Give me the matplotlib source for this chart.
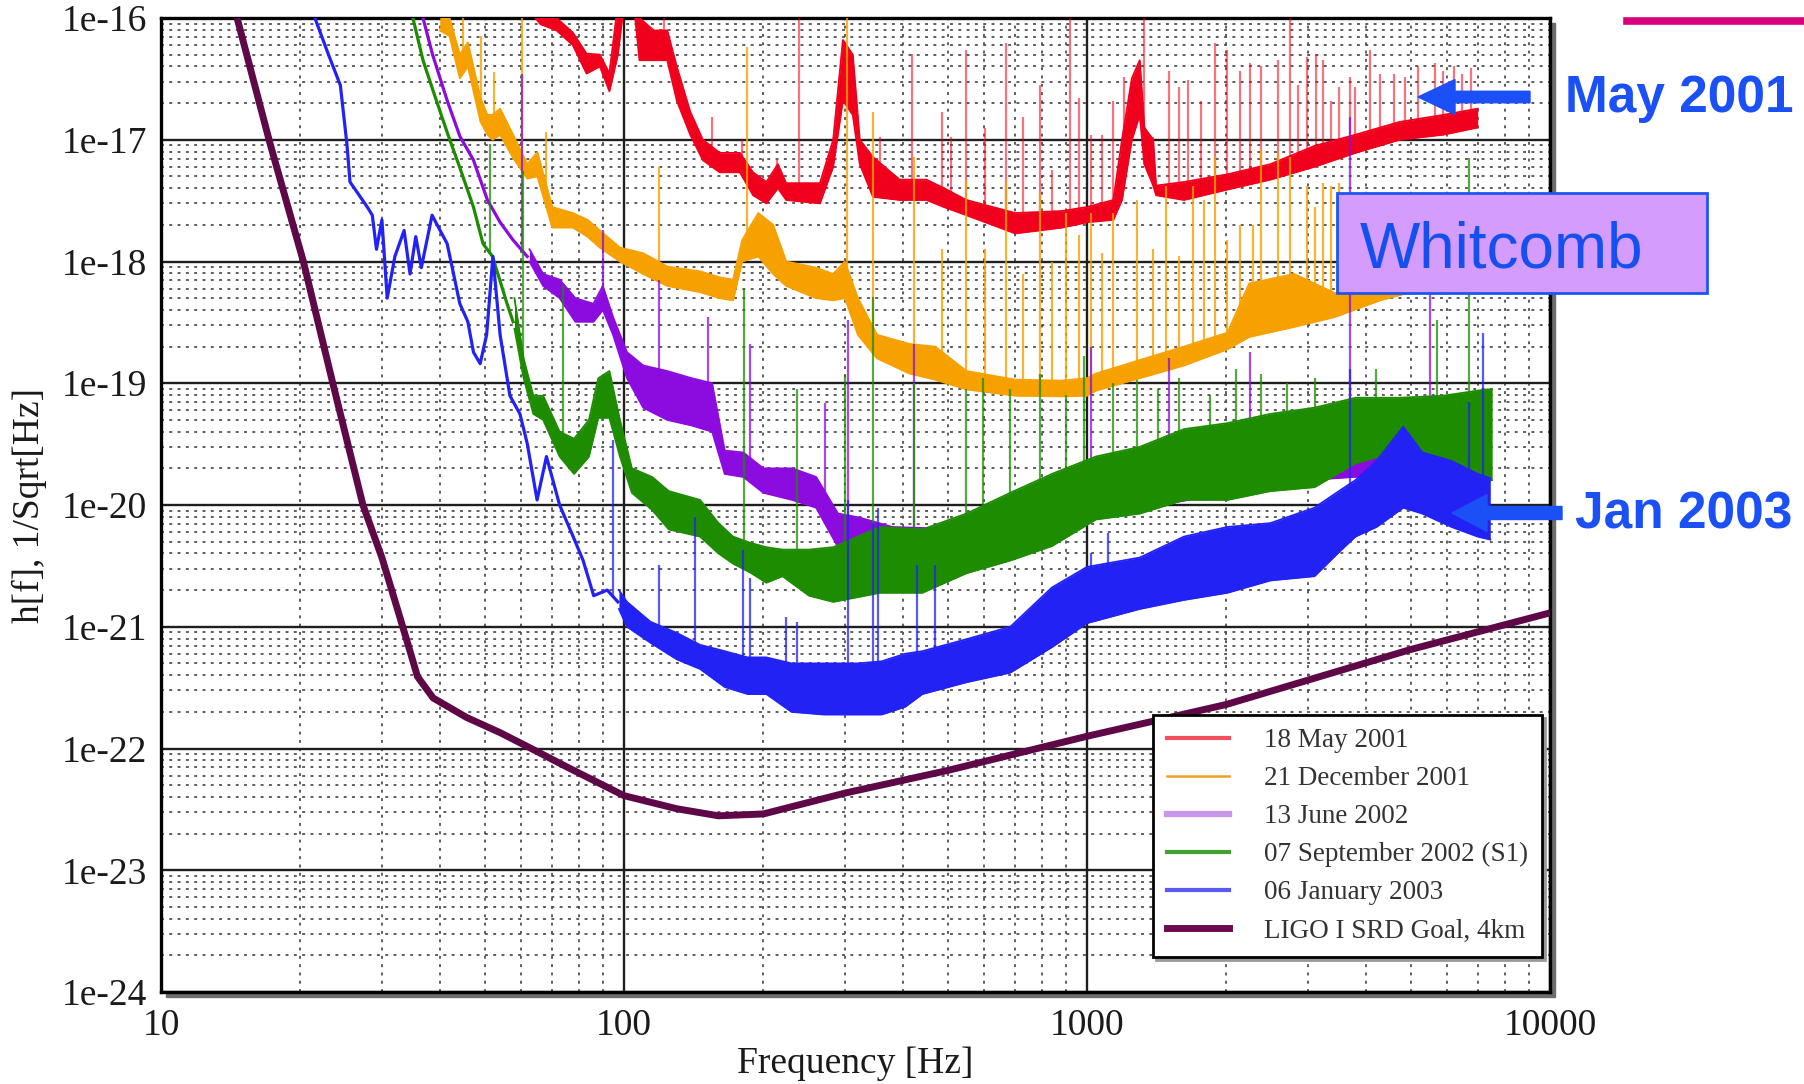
import numpy as np
import matplotlib
matplotlib.use("Agg")
import matplotlib.pyplot as plt
from matplotlib.lines import Line2D
from matplotlib.patches import Rectangle, FancyArrow
from matplotlib.ticker import FixedLocator, FixedFormatter, LogLocator, NullFormatter

plt.rcParams['font.family'] = ['Liberation Serif', 'DejaVu Serif']

# ---- axes ticks / labels
x_ticks = [10, 100, 1000, 10000]
x_tick_labels = ["10", "100", "1000", "10000"]
y_ticks = [1e-24, 1e-23, 1e-22, 1e-21, 1e-20, 1e-19, 1e-18, 1e-17, 1e-16]
y_tick_labels = ["1e-24", "1e-23", "1e-22", "1e-21", "1e-20", "1e-19", "1e-18", "1e-17", "1e-16"]

series_labels = ["18 May 2001", "21 December 2001", "13 June 2002",
                 "07 September 2002 (S1)", "06 January 2003", "LIGO I SRD Goal, 4km"]

# ---- LIGO I SRD goal (Hz, strain / sqrt(Hz))
srd_f = [14.6, 17.2, 20.3, 23.5, 27.3, 30.0, 32.8, 34.5, 35.8, 38.7, 45.7, 54, 63.7, 75,
         100, 130, 160, 200, 300, 500, 1000, 2000, 5000, 10000]
srd_h = [1.0e-16, 9.3e-18, 1.0e-18, 1.0e-19, 1.0e-20, 3.7e-21, 1.2e-21, 6.3e-22, 3.9e-22,
         2.6e-22, 1.8e-22, 1.35e-22, 9.8e-23, 7.1e-23, 4.1e-23, 3.2e-23, 2.8e-23, 2.9e-23,
         4.3e-23, 6.6e-23, 1.26e-22, 2.3e-22, 6.5e-22, 1.3e-21]

# ---- 18 May 2001 (red)
red_f = [63, 66, 71.5, 77.5, 83, 88.7, 93, 97, 100, 105, 108, 116, 124, 130, 139, 148, 161,
         178, 190, 203, 215, 224, 265, 283, 297, 312, 323, 345, 394, 450, 491, 549, 700,
         885, 1000, 1140, 1190, 1250, 1300, 1330, 1390, 1410, 1620, 2010, 2490, 3100, 3800,
         4730, 5880, 6980]
red_lo = [1.1e-16, 8.9e-17, 7.9e-17, 6.0e-17, 3.5e-17, 4.0e-17, 2.5e-17, 5.0e-17, 1.3e-16,
          1.3e-16, 4.5e-17, 4.5e-17, 4.5e-17, 2.1e-17, 1.1e-17, 6.8e-18, 5.4e-18, 5.4e-18,
          3.5e-18, 3.0e-18, 4.0e-18, 3.2e-18, 3.0e-18, 6.0e-18, 2.1e-17, 1.6e-17, 6.3e-18,
          3.4e-18, 3.2e-18, 3.2e-18, 2.8e-18, 2.4e-18, 1.7e-18, 1.9e-18, 2.1e-18, 2.2e-18,
          3.2e-18, 1.0e-17, 1.6e-17, 6.3e-18, 4.2e-18, 3.5e-18, 3.2e-18, 3.9e-18, 4.7e-18,
          6.0e-18, 7.8e-18, 1.0e-17, 1.1e-17, 1.26e-17]
red_hi = [1.26e-16, 1.1e-16, 1.0e-16, 7.6e-17, 5.1e-17, 5.0e-17, 3.5e-17, 1.3e-16, 1.6e-16,
          1.6e-16, 1.0e-16, 7.9e-17, 7.9e-17, 4.0e-17, 1.7e-17, 1.0e-17, 7.8e-18, 7.8e-18,
          5.4e-18, 4.5e-18, 6.3e-18, 4.4e-18, 4.4e-18, 1.0e-17, 6.6e-17, 5.0e-17, 1.0e-17,
          7.2e-18, 4.7e-18, 4.7e-18, 4.0e-18, 3.2e-18, 2.5e-18, 2.6e-18, 2.8e-18, 3.2e-18,
          1.0e-17, 3.2e-17, 4.5e-17, 1.26e-17, 1.0e-17, 4.2e-18, 4.5e-18, 5.2e-18, 6.3e-18,
          8.9e-18, 1.1e-17, 1.4e-17, 1.6e-17, 1.8e-17]
red_spike_f = [122, 155, 180, 214, 239, 357, 418, 486, 508, 549, 603, 667, 727, 790, 840,
               920, 960, 1020, 1080, 1140, 1200, 1330, 1390, 1500, 1580, 1650, 1760, 1890,
               2010, 2140, 2250, 2380, 2580, 2740, 2860, 2990, 3120, 3230, 3370, 3510, 3690,
               3800, 4080, 4290, 4600, 4870, 5180, 5640, 5880, 6200, 6460, 6750]
red_spike_top = [1.2e-16, 1.55e-17, 1.0e-17, 6.8e-18, 1.2e-16, 1.05e-17, 5.1e-17, 1.7e-17,
                 1.05e-17, 5.5e-17, 1.26e-17, 6.2e-17, 1.55e-17, 2.8e-17, 5.6e-18, 1.2e-16,
                 2.2e-17, 1.1e-17, 1.1e-17, 2.1e-17, 3.3e-17, 1.2e-16, 1.05e-17, 3.7e-17,
                 2.7e-17, 3.1e-17, 2.1e-17, 6.2e-17, 5.5e-17, 3.7e-17, 4.3e-17, 4.0e-17,
                 4.5e-17, 1.2e-16, 2.8e-17, 4.8e-17, 5.1e-17, 4.5e-17, 2.1e-17, 2.7e-17,
                 3.3e-17, 2.7e-17, 5.5e-17, 3.5e-17, 3.5e-17, 3.3e-17, 4.0e-17, 4.3e-17,
                 3.7e-17, 4.0e-17, 3.5e-17, 3.9e-17]

# ---- 21 December 2001 (orange)
orange_f = [40, 42, 44.2, 46, 49, 50.7, 52, 54, 57.6, 61.8, 65, 70, 77.5, 83.4, 88.7, 98,
            110, 124, 146, 161, 172, 180, 195, 210, 224, 260, 283, 300, 320, 352, 414, 470,
            549, 700, 880, 1000, 1045, 1300, 1620, 2010, 2240, 2800, 3430, 4300, 7000]
orange_lo = [7.9e-17, 7.1e-17, 3.2e-17, 4.0e-17, 1.4e-17, 1.1e-17, 1.0e-17, 1.1e-17,
             7.1e-18, 4.8e-18, 5.0e-18, 1.9e-18, 1.9e-18, 1.6e-18, 1.3e-18, 1.0e-18,
             7.9e-19, 6.3e-19, 5.6e-19, 5.0e-19, 4.8e-19, 1.0e-18, 1.1e-18, 7.9e-19,
             6.3e-19, 5.0e-19, 4.8e-19, 5.0e-19, 2.5e-19, 1.6e-19, 1.2e-19, 1.07e-19,
             8.9e-20, 7.9e-20, 7.8e-20, 7.9e-20, 8.7e-20, 1.1e-19, 1.4e-19, 1.9e-19,
             2.4e-19, 2.9e-19, 3.5e-19, 4.8e-19, 7.9e-19]
orange_hi = [1.26e-16, 1.0e-16, 5.0e-17, 6.3e-17, 2.2e-17, 1.6e-17, 1.6e-17, 1.8e-17,
             1.1e-17, 6.3e-18, 7.9e-18, 2.8e-18, 2.5e-18, 2.2e-18, 1.8e-18, 1.3e-18,
             1.17e-18, 9.1e-19, 8.3e-19, 7.4e-19, 7.1e-19, 1.5e-18, 2.5e-18, 2.0e-18,
             1.0e-18, 8.9e-19, 7.9e-19, 1.0e-18, 5.0e-19, 2.5e-19, 2.1e-19, 2.0e-19,
             1.26e-19, 1.07e-19, 1.05e-19, 1.1e-19, 1.2e-19, 1.55e-19, 2.0e-19, 2.6e-19,
             6.6e-19, 7.9e-19, 5.5e-19, 6.3e-19, 1.1e-18]
orange_spike_f = [45, 49, 52.5, 60.3, 68, 119, 184, 303, 345, 424, 486, 549, 603, 667, 727,
                  790, 840, 900, 960, 1020, 1080, 1140, 1280, 1390, 1480, 1580, 1690, 1790,
                  1890, 2010, 2140, 2280, 2380, 2580, 2750, 2990, 3100, 3230, 3370, 3510]
orange_spike_top = [1.2e-16, 7.1e-17, 3.6e-17, 1.2e-16, 1.15e-17, 6.0e-18, 5.8e-17, 1.2e-16,
                    1.7e-17, 7.2e-18, 1.26e-18, 4.7e-18, 1.26e-18, 4.7e-18, 7.9e-19, 3.6e-18,
                    1.0e-18, 2.5e-18, 1.66e-18, 2.5e-18, 1.17e-18, 2.5e-18, 3.2e-18, 1.26e-18,
                    4.2e-18, 1.1e-18, 4.2e-18, 3.2e-18, 7.2e-18, 1.5e-18, 2.0e-18, 2.0e-18,
                    8.3e-18, 7.8e-18, 7.2e-18, 4.2e-18, 2.8e-18, 4.4e-18, 4.2e-18, 4.4e-18]

# ---- 13 June 2002 (purple)
purple_line_f = [36.8, 38.6, 41.5, 44.2, 47.3, 50.7, 54.0, 57.6, 61.8]
purple_line_h = [1.0e-16, 5.0e-17, 2.1e-17, 1.07e-17, 6.8e-18, 3.2e-18, 2.1e-18, 1.5e-18, 1.1e-18]
purple_f = [62.5, 66.9, 72.6, 78.5, 85.9, 90, 94.7, 101.5, 110, 124, 140, 155, 165, 181,
            200, 231, 260, 290, 322, 380, 550, 1000, 3000, 7000]
purple_lo = [1.0e-18, 6.3e-19, 5.0e-19, 3.2e-19, 3.2e-19, 4.0e-19, 2.5e-19, 1.1e-19, 6.3e-20,
             5.0e-20, 4.5e-20, 4.0e-20, 1.8e-20, 1.7e-20, 1.26e-20, 1.1e-20, 9.5e-21, 4.5e-21,
             4.3e-21, 5.0e-21, 3.2e-21, 8.0e-21, 1.6e-20, 2.0e-20]
purple_hi = [1.26e-18, 7.9e-19, 7.1e-19, 5.0e-19, 4.5e-19, 6.3e-19, 3.5e-19, 1.8e-19, 1.4e-19,
             1.26e-19, 1.1e-19, 1.0e-19, 2.8e-20, 2.7e-20, 2.0e-20, 2.0e-20, 1.7e-20, 8.5e-21,
             7.9e-21, 6.6e-21, 6.3e-21, 1.6e-20, 4.0e-20, 6.3e-20]
purple_spike_f = [60.3, 90, 119, 152, 187, 272, 304, 424, 1020, 1500, 2250, 3690, 5500]
purple_spike_top = [3.5e-17, 1.8e-18, 7.1e-19, 3.5e-19, 2.1e-19, 6.9e-20, 3.3e-19, 2.1e-19,
                    2.0e-19, 1.6e-19, 1.8e-19, 1.55e-17, 5.5e-19]

# ---- 07 September 2002 (S1) (green)
green_line_f = [35.0, 36.8, 38.6, 41.5, 44.2, 47.3, 49.6, 52.0, 55.9, 57.6]
green_line_h = [1.0e-16, 4.5e-17, 2.6e-17, 1.15e-17, 5.9e-18, 2.8e-18, 1.4e-18, 1.1e-18,
                4.5e-19, 3.2e-19]
green_f = [58, 60.7, 63.7, 66.9, 72.6, 78, 84, 88, 93, 98, 104, 115, 125, 146, 160, 172,
           187, 203, 220, 251, 283, 357, 441, 549, 683, 840, 1045, 1300, 1620, 2010, 2490,
           3100, 3800, 4730, 5880, 7280, 7500]
green_lo = [2.8e-19, 1.1e-19, 5.6e-20, 5.0e-20, 2.5e-20, 1.8e-20, 2.5e-20, 5.2e-20, 5.2e-20,
            2.5e-20, 1.26e-20, 9.1e-21, 6.3e-21, 5.5e-21, 4.0e-21, 3.3e-21, 2.8e-21, 2.3e-21,
            2.6e-21, 1.8e-21, 1.6e-21, 1.9e-21, 1.9e-21, 2.75e-21, 3.5e-21, 4.6e-21, 7.6e-21,
            8.5e-21, 1.1e-20, 1.1e-20, 1.3e-20, 1.4e-20, 2.2e-20, 2.8e-20, 2.0e-20, 1.6e-20,
            1.6e-20]
green_hi = [5.0e-19, 1.6e-19, 7.9e-20, 7.9e-20, 4.0e-20, 3.5e-20, 5.0e-20, 1.1e-19, 1.26e-19,
            5.0e-20, 2.0e-20, 1.7e-20, 1.3e-20, 1.1e-20, 7.1e-21, 5.5e-21, 4.9e-21, 4.5e-21,
            4.3e-21, 4.3e-21, 4.5e-21, 6.6e-21, 6.3e-21, 8.5e-21, 1.26e-20, 1.8e-20, 2.5e-20,
            3.0e-20, 4.2e-20, 4.7e-20, 5.6e-20, 6.3e-20, 7.6e-20, 7.6e-20, 7.9e-20, 8.9e-20,
            8.9e-20]
green_spike_f = [51.3, 60.6, 73.8, 182, 236, 300, 345, 424, 549, 597, 683, 790, 900, 985,
                 1140, 1280, 1420, 1580, 1840, 2100, 2380, 2700, 3100, 4200, 5700, 6700]
green_spike_top = [9.3e-18, 5.5e-18, 6.3e-19, 5.9e-19, 8.9e-20, 1.2e-19, 5.1e-19, 1.0e-19,
                   9.0e-20, 1.1e-19, 9.0e-20, 1.2e-19, 8.0e-20, 1.66e-19, 1.0e-19, 1.07e-19,
                   9.0e-20, 1.1e-19, 8.0e-20, 1.3e-19, 1.2e-19, 1.0e-19, 1.1e-19, 1.3e-19,
                   3.3e-19, 7.1e-18]

# ---- 06 January 2003 (blue)
blue_line_f = [21.3, 23.0, 24.4, 25.2, 25.6, 27.9, 28.6, 29.2, 30.0, 30.8, 32.0, 33.5, 34.5,
               35.5, 36.5, 38.5, 41.5, 44.2, 46.0, 47.3, 48.9, 50.5, 52.1, 54.0, 56.7, 59.6,
               61.8, 64.9, 68.0, 72.6, 77.5, 81.6, 86.0, 92.0, 97.0]
blue_line_h = [1.1e-16, 5.0e-17, 2.8e-17, 9.3e-18, 4.5e-18, 2.8e-18, 2.4e-18, 1.26e-18,
               2.2e-18, 5.0e-19, 1.1e-18, 1.8e-18, 7.9e-19, 1.6e-18, 8.9e-19, 2.4e-18,
               1.4e-18, 4.5e-19, 3.2e-19, 1.8e-19, 1.45e-19, 2.5e-19, 1.1e-18, 2.5e-19,
               7.9e-20, 5.6e-20, 3.2e-20, 1.1e-20, 2.5e-20, 1.0e-20, 5.6e-21, 3.5e-21,
               1.8e-21, 2.0e-21, 1.6e-21]
blue_f = [97.5, 101.5, 114, 130, 146, 165, 185, 203, 230, 270, 320, 360, 405, 441, 549, 683,
          840, 1000, 1300, 1620, 2010, 2490, 3100, 3500, 3800, 4220, 4820, 5300, 6130, 6980,
          7430]
blue_lo = [1.4e-21, 1.0e-21, 7.4e-22, 5.4e-22, 4.5e-22, 3.2e-22, 2.8e-22, 2.8e-22, 2.0e-22,
           1.9e-22, 1.9e-22, 1.9e-22, 2.2e-22, 2.8e-22, 3.5e-22, 4.2e-22, 6.8e-22, 1.07e-21,
           1.4e-21, 1.66e-21, 1.9e-21, 2.4e-21, 2.6e-21, 4.1e-21, 5.5e-21, 6.6e-21, 9.5e-21,
           8.5e-21, 6.6e-21, 5.5e-21, 5.2e-21]
blue_hi = [2.0e-21, 1.6e-21, 1.1e-21, 8.9e-22, 7.1e-22, 6.3e-22, 5.6e-22, 5.6e-22, 5.0e-22,
           5.0e-22, 5.0e-22, 5.2e-22, 6.0e-22, 6.3e-22, 7.9e-22, 1.0e-21, 2.1e-21, 3.1e-21,
           3.7e-21, 5.5e-21, 6.6e-21, 7.1e-21, 9.5e-21, 1.3e-20, 1.6e-20, 2.3e-20, 4.4e-20,
           2.7e-20, 2.3e-20, 1.8e-20, 1.66e-20]
blue_spike_f = [94.7, 119, 142, 181, 187, 224, 236, 304, 345, 353, 430, 470, 1019, 1110,
                3690, 6700, 7180]
blue_spike_top = [3.4e-20, 3.2e-21, 7.9e-21, 4.3e-21, 2.5e-21, 1.2e-21, 1.1e-21, 1.1e-20,
                  7.1e-21, 9.5e-21, 3.2e-21, 3.2e-21, 4.0e-21, 5.9e-21, 1.3e-19, 7.0e-20,
                  2.6e-19]

colors = {'red': '#f0001c', 'orange': '#f6a100', 'purple': '#8c0ce0',
          'green': '#1e8c00', 'blue': '#2222f5', 'maroon': '#5e0848'}
legend_colors = ['#f05060', '#f0a020', '#c896ea', '#40a030', '#5a5af0', '#6a0a50']
legend_widths = [3.0, 1.8, 4.5, 3.0, 3.0, 5.0]


def draw_curve(ax, band_f, band_lo, band_hi, spike_f, spike_top, color, z,
               line_f=(), line_h=(), spike_alpha=0.75):
    if len(line_f):
        ax.plot(line_f, line_h, color=color, lw=2.3, zorder=z)
    ax.fill_between(band_f, band_lo, band_hi, color=color, lw=0, zorder=z)
    ax.plot(band_f, band_lo, color=color, lw=1.3, zorder=z)
    ax.plot(band_f, band_hi, color=color, lw=1.3, zorder=z)
    # spikes start from the curve itself
    base_f = np.log10(np.concatenate([line_f, band_f]))
    base_h = np.log10(np.concatenate([line_h, band_lo]))
    bottom = 10 ** np.interp(np.log10(spike_f), base_f, base_h)
    ax.vlines(spike_f, bottom, spike_top, color=color, lw=1.6, alpha=spike_alpha, zorder=z)


fig = plt.figure(figsize=(18.04, 10.84), dpi=100)
W, H = 1804, 1084
ax = fig.add_axes([161 / W, 1 - 992 / H, 1389 / W, 974 / H])

# grey drop shadow behind the frame
fig.add_artist(Rectangle((166 / W, 1 - 997 / H), 1389 / W, 974 / H,
                         transform=fig.transFigure, color='#6e6e6e', zorder=-1))

ax.set_xscale('log')
ax.set_yscale('log')
ax.set_xlim(10, 10000)
ax.set_ylim(1e-24, 1e-16)

draw_curve(ax, red_f, red_lo, red_hi, red_spike_f, red_spike_top, colors['red'], 3,
           spike_alpha=0.55)
draw_curve(ax, orange_f, orange_lo, orange_hi, orange_spike_f, orange_spike_top,
           colors['orange'], 4, spike_alpha=0.8)
draw_curve(ax, purple_f, purple_lo, purple_hi, purple_spike_f, purple_spike_top,
           colors['purple'], 5, purple_line_f, purple_line_h)
draw_curve(ax, green_f, green_lo, green_hi, green_spike_f, green_spike_top,
           colors['green'], 6, green_line_f, green_line_h)
draw_curve(ax, blue_f, blue_lo, blue_hi, blue_spike_f, blue_spike_top,
           colors['blue'], 7, blue_line_f, blue_line_h)
ax.plot(srd_f, srd_h, color=colors['maroon'], lw=5, zorder=8, solid_capstyle='butt')

# grid
ax.xaxis.set_major_locator(FixedLocator(x_ticks))
ax.xaxis.set_major_formatter(FixedFormatter(x_tick_labels))
ax.yaxis.set_major_locator(FixedLocator(y_ticks))
ax.yaxis.set_major_formatter(FixedFormatter(y_tick_labels))
ax.xaxis.set_minor_locator(LogLocator(base=10, subs=np.arange(2, 10), numticks=100))
ax.yaxis.set_minor_locator(LogLocator(base=10, subs=np.arange(2, 10), numticks=100))
ax.xaxis.set_minor_formatter(NullFormatter())
ax.yaxis.set_minor_formatter(NullFormatter())
ax.set_axisbelow(True)
ax.grid(which='major', color='#1e1e1e', lw=1.7, ls='-')
ax.grid(which='minor', color='#505050', lw=1.3, ls=(0, (1.6, 3.0)))
ax.tick_params(which='both', length=0)
ax.tick_params(axis='x', pad=12, labelsize=27, labelcolor='#1a1a1a')
ax.tick_params(axis='y', pad=10, labelsize=27, labelcolor='#1a1a1a')
for sp in ax.spines.values():
    sp.set_linewidth(2.4)
    sp.set_color('black')

fig.text(855 / W, 1 - 1064 / H, "Frequency [Hz]", fontsize=27, ha='center', va='center',
         color='#1a1a1a')
fig.text(29 / W, 1 - 505 / H, "h[f], 1/Sqrt[Hz]", fontsize=27, ha='center', va='center',
         rotation=90, color='#1a1a1a')

handles = [Line2D([], [], color=c, lw=w) for c, w in zip(legend_colors, legend_widths)]
leg = ax.legend(handles, series_labels, loc='lower right', bbox_to_anchor=(0.9942, 0.0359),
                borderaxespad=0, prop={'family': 'Liberation Serif', 'size': 19.5},
                frameon=True, fancybox=False, edgecolor='black', framealpha=1,
                handlelength=2.3, handletextpad=1.3, labelspacing=0.48, borderpad=0.5,
                shadow={'color': '0.6', 'alpha': 1.0})
leg.get_frame().set_linewidth(2)
leg.set_zorder(20)
for t in leg.get_texts():
    t.set_color('#333333')

# annotations outside the plot
ann_blue = '#1a50f5'
inch = fig.dpi_scale_trans
fig.text(1565 / W, 1 - 112 / H, "May 2001", fontsize=37, fontweight='bold',
         family='Liberation Sans', color=ann_blue, va='baseline', ha='left')
fig.text(1575 / W, 1 - 528 / H, "Jan 2003", fontsize=37, fontweight='bold',
         family='Liberation Sans', color=ann_blue, va='baseline', ha='left')
fig.add_artist(FancyArrow(15.30, (H - 97) / 100, -1.12, 0, width=0.115, head_width=0.35,
                          head_length=0.37, length_includes_head=True, color=ann_blue,
                          transform=inch, zorder=10))
fig.add_artist(FancyArrow(15.62, (H - 513) / 100, -1.10, 0, width=0.13, head_width=0.37,
                          head_length=0.35, length_includes_head=True, color=ann_blue,
                          transform=inch, zorder=10))
fig.add_artist(Rectangle((13.37, (H - 293) / 100), 3.70, 1.00, transform=inch,
                         facecolor='#d49cfd', edgecolor='#1f55f2', lw=2, zorder=10))
fig.text(13.60 / 18.04, (H - 267) / H, "Whitcomb", fontsize=46, family='Liberation Sans',
         color='#1450f0', va='baseline', ha='left', zorder=11)
fig.add_artist(Line2D([16.27, 18.04], [(H - 21) / 100, (H - 21) / 100], transform=inch,
                      color='#d8007c', lw=5.5, zorder=10))

fig.savefig("out.png", dpi=100)
